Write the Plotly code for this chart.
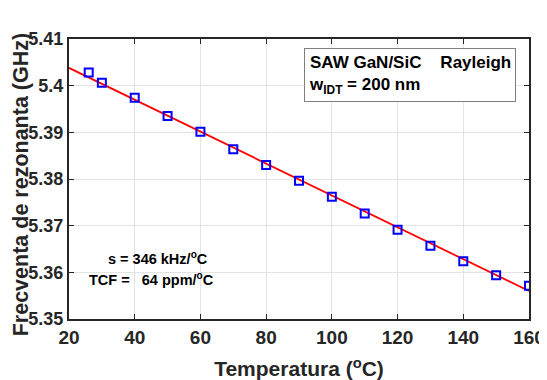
import plotly.graph_objects as go

temps = [26, 30, 40, 50, 60, 70, 80, 90, 100, 110, 120, 130, 140, 150, 160]
freqs = [5.4028, 5.4006, 5.3974, 5.3935, 5.3901, 5.3864, 5.3830, 5.3796, 5.3762,
         5.3726, 5.3691, 5.3657, 5.3624, 5.3594, 5.3571]
fit_t = [20, 160]
fit_f = [5.4038, 5.3560]
x_ticks = [20, 40, 60, 80, 100, 120, 140, 160]
y_ticks = [5.35, 5.36, 5.37, 5.38, 5.39, 5.40, 5.41]
y_ticklabels = ["5.35", "5.36", "5.37", "5.38", "5.39", "5.4", "5.41"]

FONT = "Liberation Sans, Arial, sans-serif"
DARK = "#262626"

fig = go.Figure()
fig.add_trace(go.Scatter(x=fit_t, y=fit_f, mode="lines",
                         line=dict(color="#ff0000", width=1.8), showlegend=False))
fig.add_trace(go.Scatter(x=temps, y=freqs, mode="markers",
                         marker=dict(symbol="square-open", size=8, color="#0000ff",
                                     line=dict(width=2, color="#0000ff")),
                         showlegend=False))

axis_common = dict(showline=True, linecolor=DARK, linewidth=2, mirror="allticks",
                   ticks="inside", ticklen=5, tickcolor=DARK,
                   showgrid=True, gridcolor="#e3e3e3", gridwidth=1, zeroline=False,
                   automargin=False)

fig.update_xaxes(range=[20, 160], tickvals=x_ticks,
                 tickfont=dict(family=FONT, size=19, color=DARK, weight="bold"),
                 title=dict(text="Temperatura (<sup>o</sup>C)",
                            font=dict(family=FONT, size=21, color=DARK, weight="bold")),
                 **axis_common)
fig.update_yaxes(range=[5.35, 5.41], tickvals=y_ticks, ticktext=y_ticklabels,
                 tickfont=dict(family=FONT, size=18, color=DARK, weight="bold"),
                 ticksuffix="\u00a0",
                 **axis_common)

# page body adds an 8px offset; margins compensate so the plot area lands at 69..529 x 39..319
fig.update_layout(
    width=547, height=380,
    margin=dict(l=61, r=26, t=31, b=69),
    paper_bgcolor="white", plot_bgcolor="white",
    font=dict(family=FONT, color=DARK),
    annotations=[
        dict(x=-0.105, y=0.48, xref="paper", yref="paper", xanchor="center", yanchor="middle",
             text="Frecventa de rezonanta (GHz)", textangle=-90, showarrow=False,
             font=dict(family=FONT, size=21.5, color=DARK, weight="bold")),
        dict(x=0.972, y=0.968, xref="paper", yref="paper", xanchor="right", yanchor="top",
             text="<b>SAW GaN/SiC    Rayleigh<br>w<sub>IDT</sub> = 200 nm</b>",
             align="left", showarrow=False, bordercolor="#7f7f7f", borderwidth=1,
             borderpad=4, bgcolor="white",
             font=dict(family=FONT, size=17, color="black")),
        dict(x=47, y=5.3630, xref="x", yref="y", xanchor="center", yanchor="middle",
             text="<b>s = 346 kHz/<sup>o</sup>C</b>", showarrow=False,
             font=dict(family=FONT, size=14.5, color="black")),
        dict(x=45, y=5.3585, xref="x", yref="y", xanchor="center", yanchor="middle",
             text="<b>TCF =   64 ppm/<sup>o</sup>C</b>", showarrow=False,
             font=dict(family=FONT, size=14.5, color="black")),
    ],
)

fig.write_html("out.html")
